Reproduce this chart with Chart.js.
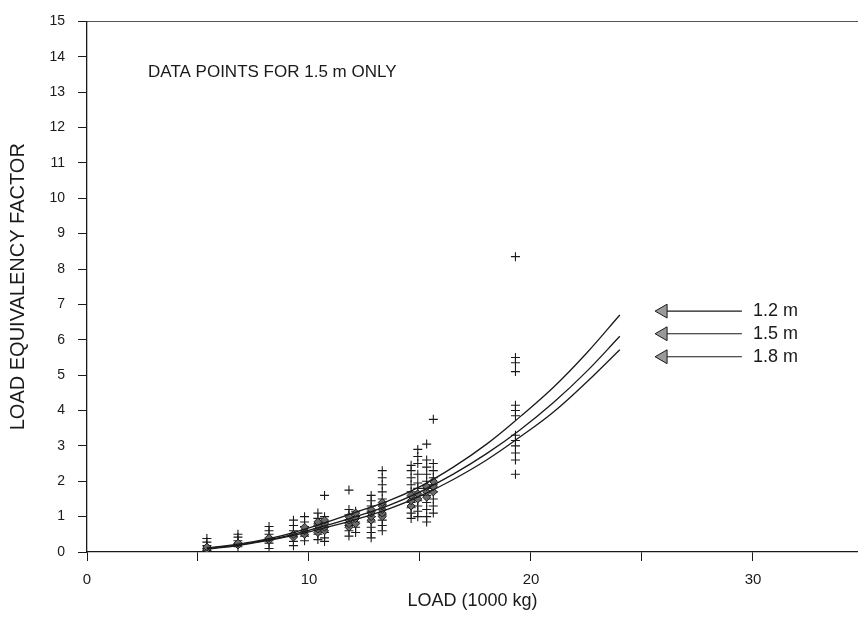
<!DOCTYPE html>
<html><head><meta charset="utf-8">
<script src="https://cdn.jsdelivr.net/npm/chart.js@4"></script>
<style>html,body{margin:0;padding:0;background:#fff;overflow:hidden}#wrap{width:858px;height:638px}</style>
</head><body><div id="wrap"><canvas id="c" width="858" height="638"></canvas></div>
<script>
// ---- data ----
const curveLoads = [5.4, 6.8, 8.2, 9.3, 10.5, 12, 13.6, 15, 16.5, 18, 19.5, 21, 22.5, 24];
const lef12 = [0.12, 0.22, 0.38, 0.55, 0.78, 1.10, 1.45, 1.85, 2.40, 3.05, 3.82, 4.65, 5.62, 6.70];
const lef15 = [0.10, 0.20, 0.35, 0.50, 0.70, 0.98, 1.32, 1.70, 2.20, 2.78, 3.45, 4.22, 5.10, 6.10];
const lef18 = [0.08, 0.18, 0.33, 0.47, 0.65, 0.90, 1.22, 1.58, 2.05, 2.60, 3.25, 3.95, 4.80, 5.72];

const pointLoads = [5.4, 6.8, 8.2, 9.3, 9.8, 10.4, 10.7, 11.8, 12.1, 12.8, 13.3, 14.6, 14.9, 15.3, 15.6, 19.3];
const pointLEF = [
  [0.38, 0.28, 0.18, 0.10, 0.04],
  [0.50, 0.42, 0.32, 0.24, 0.15],
  [0.72, 0.60, 0.50, 0.38, 0.25, 0.10],
  [0.90, 0.75, 0.60, 0.45, 0.30, 0.18],
  [1.00, 0.85, 0.72, 0.60, 0.45, 0.32],
  [1.10, 0.95, 0.80, 0.65, 0.50, 0.35],
  [1.60, 1.00, 0.85, 0.70, 0.55, 0.40, 0.30],
  [1.75, 1.20, 1.05, 0.90, 0.75, 0.60, 0.45],
  [1.15, 1.00, 0.85, 0.70, 0.55],
  [1.60, 1.45, 1.30, 1.15, 1.00, 0.85, 0.70, 0.55, 0.40],
  [2.30, 2.10, 1.90, 1.70, 1.50, 1.35, 1.20, 1.05, 0.90, 0.75, 0.60],
  [2.45, 2.30, 2.10, 1.90, 1.70, 1.55, 1.40, 1.25, 1.10, 0.95],
  [2.90, 2.70, 2.50, 2.20, 1.95, 1.80, 1.60, 1.45, 1.30, 1.15, 1.00],
  [3.05, 2.60, 2.40, 2.20, 2.00, 1.80, 1.60, 1.40, 1.20, 1.00, 0.85],
  [3.75, 2.50, 2.30, 2.10, 1.90, 1.70, 1.50, 1.30, 1.10],
  [8.35, 5.50, 5.35, 5.10, 4.15, 4.00, 3.85, 3.30, 3.15, 3.00, 2.80, 2.60, 2.20]
];
const meanLEF = [
  [0.08, 0.14], [0.20, 0.25], [0.33, 0.40], [0.42, 0.50], [0.50, 0.60, 0.70],
  [0.55, 0.65, 0.75, 0.85], [0.60, 0.70, 0.80, 0.90], [0.70, 0.80, 0.90, 1.00],
  [0.80, 0.95, 1.10], [0.90, 1.00, 1.10, 1.20], [1.00, 1.10, 1.20, 1.30, 1.40],
  [1.30, 1.45, 1.60], [1.50, 1.65], [1.55, 1.70, 1.85], [1.70, 1.85, 2.00], []
];

const xTicks = [0, 5, 10, 15, 20, 25, 30];
const xTickLabels = ['0', '', '10', '', '20', '', '30'];
const xMax = 34.73;
const yMax = 15;

const legendLabels = ['1.2 m', '1.5 m', '1.8 m'];
const legendLEF = [6.81, 6.17, 5.52];
const arrowLoads = [25.95, 29.5];
const legendTextLoad = 30.0;

const noteText = 'DATA POINTS FOR 1.5 m ONLY';
const noteLoad = 2.75;
const noteLEF = 13.55;

const xTitle = 'LOAD (1000 kg)';
const yTitle = 'LOAD EQUIVALENCY FACTOR';

// ---- build ----
const FONT = '"Liberation Sans", Arial, Helvetica, sans-serif';
const INK = '#1a1a1a';

const plusPts = [];
pointLoads.forEach((x, i) => pointLEF[i].forEach(y => plusPts.push({x, y})));
const diaPts = [];
pointLoads.forEach((x, i) => meanLEF[i].forEach(y => diaPts.push({x, y})));
const curve = arr => curveLoads.map((x, i) => ({x, y: arr[i]}));

const datasets = [
  {data: curve(lef12), showLine: true, pointRadius: 0, borderColor: INK, borderWidth: 1.3, tension: 0.4},
  {data: curve(lef15), showLine: true, pointRadius: 0, borderColor: INK, borderWidth: 1.3, tension: 0.4},
  {data: curve(lef18), showLine: true, pointRadius: 0, borderColor: INK, borderWidth: 1.3, tension: 0.4},
  {data: diaPts, pointStyle: 'rectRot', pointRadius: 4, pointBackgroundColor: '#6a6a6a', pointBorderColor: INK, pointBorderWidth: 1},
  {data: plusPts, pointStyle: 'cross', pointRadius: 4.5, pointBorderColor: INK, pointBorderWidth: 1.1}
];
legendLEF.forEach(v => datasets.push({
  data: [{x: arrowLoads[0], y: v}, {x: arrowLoads[1], y: v}],
  showLine: true, borderColor: INK, borderWidth: 1.2,
  pointStyle: 'triangle', pointRotation: -90, pointRadius: [8, 0],
  pointBackgroundColor: '#9a9a9a', pointBorderColor: INK, pointBorderWidth: 1
}));

const textPlugin = {
  id: 'texts',
  afterDatasetsDraw(chart) {
    const {ctx, scales: {x, y}} = chart;
    ctx.save();
    ctx.fillStyle = INK;
    ctx.textBaseline = 'middle';
    ctx.textAlign = 'left';
    ctx.font = '17px ' + FONT;
    ctx.fillText(noteText, x.getPixelForValue(noteLoad), y.getPixelForValue(noteLEF));
    ctx.font = '18px ' + FONT;
    legendLabels.forEach((t, i) => ctx.fillText(t, x.getPixelForValue(legendTextLoad), y.getPixelForValue(legendLEF[i])));
    ctx.restore();
  }
};

new Chart(document.getElementById('c'), {
  type: 'scatter',
  data: {datasets},
  plugins: [textPlugin],
  options: {
    responsive: false,
    animation: false,
    devicePixelRatio: 1,
    layout: {autoPadding: false, padding: {top: 17, right: 0, left: 0, bottom: 0}},
    plugins: {legend: {display: false}, tooltip: {enabled: false}},
    scales: {
      x: {
        type: 'linear', position: 'bottom', min: 0, max: xMax,
        afterBuildTicks: s => { s.ticks = xTicks.map(v => ({value: v})); },
        afterFit: s => { s.height = 86; },
        ticks: {callback: v => { const i = xTicks.indexOf(v); return i >= 0 ? xTickLabels[i] : ''; },
                color: INK, font: {family: FONT, size: 15}, padding: 10, maxRotation: 0, autoSkip: false},
        grid: {display: true, drawOnChartArea: false, drawTicks: true, tickLength: 9, color: INK, lineWidth: 1},
        border: {display: true, color: INK, width: 1.3},
        title: {display: true, text: xTitle, color: INK, font: {family: FONT, size: 18}, padding: {top: 0, bottom: 26}}
      },
      xTop: {
        type: 'linear', position: 'top', min: 0, max: xMax,
        afterFit: s => { s.height = 0; },
        ticks: {display: false},
        grid: {display: false, drawTicks: false},
        border: {display: true, color: '#555', width: 1, dash: [1, 1]}
      },
      y: {
        type: 'linear', min: 0, max: yMax,
        afterFit: s => { s.width = 87; },
        ticks: {stepSize: 1, color: INK, font: {family: FONT, size: 14}, padding: 13},
        grid: {display: true, drawOnChartArea: false, drawTicks: true, tickLength: 9, color: INK, lineWidth: 1},
        border: {display: true, color: INK, width: 1.3},
        title: {display: true, text: yTitle, color: INK, font: {family: FONT, size: 20}, padding: {top: 6, bottom: 0}}
      }
    }
  }
});
</script>
</body></html>
